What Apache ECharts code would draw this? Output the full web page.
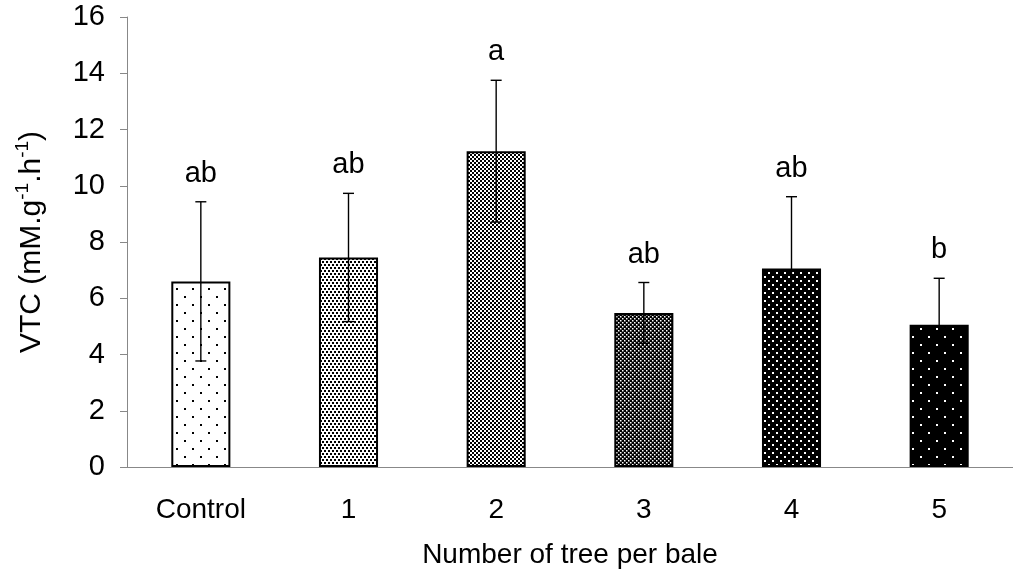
<!DOCTYPE html>
<html>
<head>
<meta charset="utf-8">
<script src="https://cdn.jsdelivr.net/npm/echarts@6/dist/echarts.min.js"></script>
<style>html,body{margin:0;padding:0;background:#fff}#c{width:1013px;height:577px}</style>
</head>
<body>
<div id="c"></div>
<script>
// ---- data ----
const categories = ['Control', '1', '2', '3', '4', '5'];
const means = [6.60, 7.45, 11.23, 5.48, 7.06, 5.06];
const sds = [2.83, 2.28, 2.52, 1.08, 2.55, 1.65];
const letters = ['ab', 'ab', 'a', 'ab', 'ab', 'b'];
const yMin = 0, yMax = 16, yStep = 2;

// ---- fill patterns (style) ----
function makePattern(w, h, bg, fg, dots) {
  const c = document.createElement('canvas');
  c.width = w; c.height = h;
  const g = c.getContext('2d');
  g.fillStyle = bg; g.fillRect(0, 0, w, h);
  g.fillStyle = fg;
  dots.forEach(d => g.fillRect(d[0], d[1], d[2], d[3]));
  return { image: c, repeat: 'repeat' };
}
const patterns = [
  makePattern(16, 16, '#fff', '#000', [[0, 0, 2, 2], [8, 8, 2, 2]]),
  makePattern(4, 6, '#fff', '#000', [[0, 0, 2, 2], [2, 3, 2, 2]]),
  makePattern(4, 4, '#fff', '#000', [[0, 0, 2, 2], [2, 2, 2, 2]]),
  makePattern(4, 4, '#000', '#fff', [[0, 0, 1.5, 1.5], [2, 2, 1.5, 1.5]]),
  makePattern(8, 8, '#000', '#fff', [[0, 0, 2, 2], [4, 4, 2, 2]]),
  makePattern(16, 16, '#000', '#fff', [[0, 0, 2, 2], [8, 8, 2, 2]])
];

const FONT = 'Liberation Sans';
const chart = echarts.init(document.getElementById('c'), null, { renderer: 'canvas' });
chart.setOption({
  animation: false,
  backgroundColor: '#fff',
  grid: { left: 127, top: 17, width: 889, height: 450, containLabel: false },
  xAxis: {
    type: 'category',
    data: categories,
    boundaryGap: true,
    name: 'Number of tree per bale',
    nameLocation: 'middle',
    nameGap: 74,
    nameTextStyle: { fontFamily: FONT, fontSize: 28, color: '#000' },
    axisLine: { lineStyle: { color: '#888', width: 1 } },
    axisTick: { alignWithLabel: true, length: 6, lineStyle: { color: '#888' } },
    axisLabel: { fontFamily: FONT, fontSize: 28, color: '#000', margin: 29 },
    splitLine: { show: false }
  },
  yAxis: {
    type: 'value',
    min: yMin, max: yMax, interval: yStep,
    name: '{n|VTC (mM.g}{s|-1}{n|.h}{s|-1}{n|)}',
    nameLocation: 'middle',
    nameRotate: 90,
    nameGap: 76,
    nameTextStyle: {
      color: '#000',
      rich: {
        n: { fontFamily: FONT, fontSize: 30, lineHeight: 38, color: '#000' },
        s: { fontFamily: FONT, fontSize: 19, lineHeight: 22, color: '#000', verticalAlign: 'top' }
      }
    },
    axisLine: { show: true, lineStyle: { color: '#888', width: 1 } },
    axisTick: { show: true, length: 7, lineStyle: { color: '#888' } },
    axisLabel: { fontFamily: FONT, fontSize: 29, color: '#000', margin: 22 },
    splitLine: { show: false }
  },
  series: [
    {
      type: 'bar',
      barWidth: '40%',
      data: means.map((v, i) => ({
        value: v,
        itemStyle: { color: patterns[i], borderColor: '#000', borderWidth: 2 }
      })),
      z: 2
    },
    {
      type: 'custom',
      data: means.map((m, i) => [i, m - sds[i], m + sds[i]]),
      encode: { x: 0, y: [1, 2] },
      z: 5,
      renderItem: function (params, api) {
        const x = api.value(0);
        const lo = api.coord([x, api.value(1)]);
        const hi = api.coord([x, api.value(2)]);
        const w = 11;
        const st = { stroke: '#000', lineWidth: 1.4 };
        return {
          type: 'group',
          children: [
            { type: 'line', shape: { x1: lo[0], y1: lo[1], x2: hi[0], y2: hi[1] }, style: st },
            { type: 'line', shape: { x1: hi[0] - w / 2, y1: hi[1], x2: hi[0] + w / 2, y2: hi[1] }, style: st },
            { type: 'line', shape: { x1: lo[0] - w / 2, y1: lo[1], x2: lo[0] + w / 2, y2: lo[1] }, style: st }
          ]
        };
      }
    },
    {
      type: 'scatter',
      data: means.map((m, i) => [i, m + sds[i]]),
      symbolSize: 1,
      itemStyle: { color: 'transparent', opacity: 1 },
      z: 6,
      label: {
        show: true,
        position: 'top',
        distance: 13,
        fontFamily: FONT,
        fontSize: 29,
        color: '#000',
        opacity: 1,
        formatter: p => letters[p.dataIndex]
      }
    }
  ]
});
</script>
</body>
</html>
